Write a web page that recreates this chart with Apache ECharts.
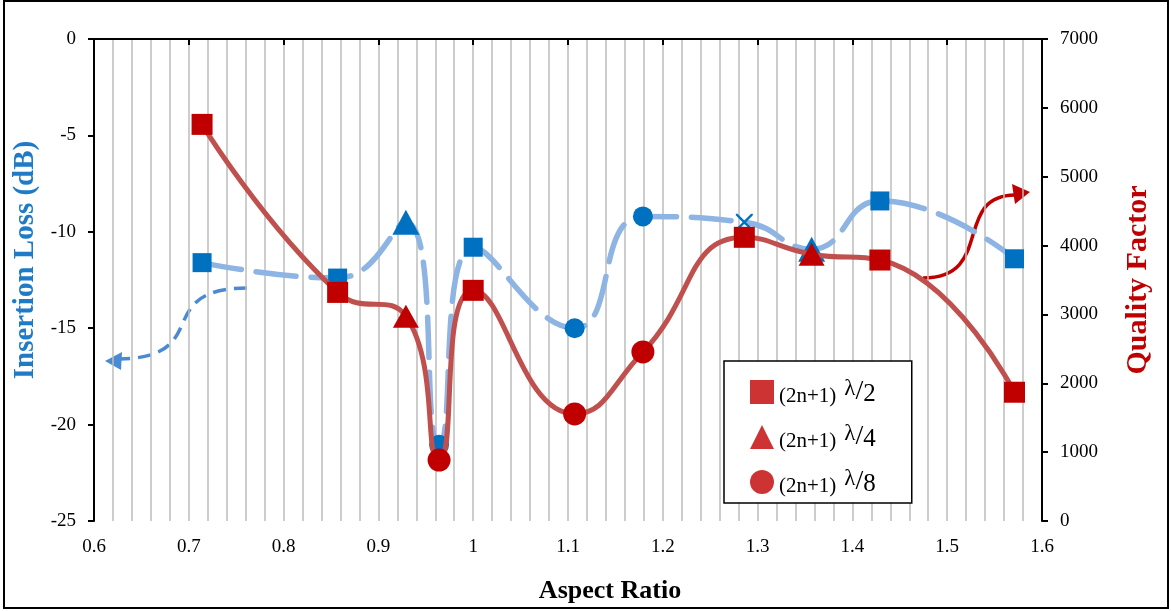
<!DOCTYPE html>
<html>
<head>
<meta charset="utf-8">
<script src="https://cdn.jsdelivr.net/npm/echarts@6/dist/echarts.min.js"></script>
<style>
  html, body { margin: 0; padding: 0; background: #fff; }
  #chart { width: 1171px; height: 611px; }
</style>
</head>
<body>
<div id="chart"></div>
<script>
// values
const aspectRatio   = [0.714, 0.857, 0.929, 0.964, 1.0, 1.107, 1.179, 1.286, 1.357, 1.429, 1.571];
const insertionLoss = [-11.6, -12.4, -9.5, -21.05, -10.8, -15.0, -9.2, -9.5, -10.9, -8.4, -11.4];
const qualityFactor = [5760, 3320, 2975, 885, 3350, 1555, 2455, 4120, 3875, 3790, 1870];
// resonance mode of each point: (2n+1) λ/2, λ/4, λ/8 ; 'x' = plain cross marker
const qModes    = ['2', '2', '4', '8', '2', '8', '8', '2', '4', '2', '2'];
const lossModes = ['2', '2', '4', '8', '2', '8', '8', 'x', '4', '2', '2'];
const legendModes = ['2', '4', '8'];

const BLUE_MARK = '#0070C0';
const BLUE_LINE = '#8DB4E2';
const RED_MARK = '#C00000';
const RED_LINE = '#C0504D';
const FONT = "'Liberation Serif', 'DejaVu Serif', serif";

const crossPath = 'path://M0,0 L2,0 L10,8 L18,0 L20,0 L20,2 L12,10 L20,18 L20,20 L18,20 L10,12 L2,20 L0,20 L0,18 L8,10 L0,2 Z';

function markerFor(mode, blue) {
  if (mode === '2') return { symbol: 'rect', symbolSize: blue ? 19 : 21 };
  if (mode === '4') return { symbol: 'triangle', symbolSize: blue ? [27, 25] : [26, 23] };
  if (mode === '8') return { symbol: 'circle', symbolSize: blue ? 20 : 23 };
  return { symbol: crossPath, symbolSize: 17 };
}

const lossData = aspectRatio.map((x, i) => Object.assign({ value: [x, insertionLoss[i]] }, markerFor(lossModes[i], true)));
const qData = aspectRatio.map((x, i) => Object.assign({ value: [x, qualityFactor[i]] }, markerFor(qModes[i], false)));

const legendIcons = { '2': 'rect', '4': 'triangle', '8': 'circle' };

const chart = echarts.init(document.getElementById('chart'));

chart.setOption({
  animation: false,
  backgroundColor: '#fff',
  grid: { left: 94, right: 129, top: 39, bottom: 90 },
  xAxis: {
    type: 'value',
    min: 0.6, max: 1.6, interval: 0.1,
    name: 'Aspect Ratio',
    nameLocation: 'middle',
    nameGap: 57,
    nameTextStyle: { fontFamily: FONT, fontSize: 26, fontWeight: 'bold', color: '#000', padding: [0, 0, 0, 84] },
    axisLine: { lineStyle: { color: '#000', width: 2 } },
    axisTick: { show: true, length: 6, lineStyle: { color: '#000', width: 2 } },
    axisLabel: { fontFamily: FONT, fontSize: 19, color: '#000', margin: 17,
      formatter: v => String(Math.round(v * 10) / 10) },
    splitLine: { show: true, lineStyle: { color: '#BDBDBD', width: 1.5 } },
    minorTick: { show: false, splitNumber: 5 },
    minorSplitLine: { show: true, lineStyle: { color: '#BDBDBD', width: 1.5 } }
  },
  yAxis: [
    {
      type: 'value',
      min: -25, max: 0, interval: 5,
      name: 'Insertion Loss (dB)',
      nameLocation: 'middle',
      nameRotate: 90,
      nameGap: 45,
      nameTextStyle: { fontFamily: FONT, fontSize: 29, fontWeight: 'bold', color: '#1F7BC8', padding: [0, 0, 0, 40] },
      axisLine: { show: true, lineStyle: { color: '#000', width: 2 } },
      axisTick: { show: true, length: 6, lineStyle: { color: '#000', width: 2 } },
      axisLabel: { fontFamily: FONT, fontSize: 19, color: '#000', margin: 18 },
      splitLine: { show: false }
    },
    {
      type: 'value',
      min: 0, max: 7000, interval: 1000,
      name: 'Quality Factor',
      nameLocation: 'middle',
      nameRotate: 90,
      nameGap: 81,
      nameTextStyle: { fontFamily: FONT, fontSize: 30, fontWeight: 'bold', color: RED_MARK },
      axisLine: { show: true, lineStyle: { color: '#000', width: 2 } },
      axisTick: { show: true, length: 6, lineStyle: { color: '#000', width: 2 } },
      axisLabel: { fontFamily: FONT, fontSize: 19, color: '#000', margin: 18, formatter: v => String(v) },
      splitLine: { show: false }
    }
  ],
  legend: {
    orient: 'vertical',
    left: 724, top: 361,
    padding: [9, 36, 6, 26],
    itemGap: 8,
    itemWidth: 24, itemHeight: 24,
    borderColor: '#000', borderWidth: 1.5,
    backgroundColor: '#fff',
    data: legendModes.map(m => ({ name: 'λ/' + m, icon: legendIcons[m] })),
    formatter: name => '{a|(2n+1)}{l|λ}{s|/}{n|' + name.split('/')[1] + '}',
    textStyle: {
      color: '#000',
      rich: {
        a: { fontFamily: FONT, fontSize: 21, verticalAlign: 'bottom', lineHeight: 22, padding: [6, 8, 0, 0] },
        l: { fontFamily: FONT, fontSize: 23, verticalAlign: 'top', lineHeight: 20 },
        s: { fontFamily: FONT, fontSize: 28, verticalAlign: 'middle', lineHeight: 30 },
        n: { fontFamily: FONT, fontSize: 25, verticalAlign: 'bottom', lineHeight: 22, padding: [12, 0, 0, 0] }
      }
    }
  },
  series: [
    {
      name: 'Insertion Loss',
      type: 'line',
      yAxisIndex: 0,
      data: lossData,
      smooth: 0.5,
      lineStyle: { color: BLUE_LINE, width: 5.5, type: [40, 15], cap: 'round' },
      itemStyle: { color: BLUE_MARK },
      z: 2
    },
    {
      name: 'Quality Factor',
      type: 'line',
      yAxisIndex: 1,
      data: qData,
      smooth: 0.5,
      lineStyle: { color: RED_LINE, width: 5, cap: 'round' },
      itemStyle: { color: RED_MARK },
      z: 3
    }
  ].concat(legendModes.map(m => ({
    name: 'λ/' + m,
    type: 'scatter',
    data: [],
    itemStyle: { color: RED_MARK }
  }))),
  graphic: [
    {
      type: 'rect',
      shape: { x: 4, y: 1, width: 1164, height: 607 },
      style: { fill: 'none', stroke: '#000', lineWidth: 2 },
      silent: true
    },
    {
      type: 'bezierCurve',
      shape: { x1: 247, y1: 288, cpx1: 150, cpy1: 289, cpx2: 215, cpy2: 357, x2: 120, y2: 359 },
      style: { fill: 'none', stroke: '#4A8AD4', lineWidth: 3.5, lineDash: [13, 8] },
      silent: true
    },
    {
      type: 'polygon',
      shape: { points: [[105, 361], [122, 352], [121, 370]] },
      style: { fill: '#4A8AD4' },
      silent: true
    },
    {
      type: 'bezierCurve',
      shape: { x1: 923, y1: 278, cpx1: 995, cpy1: 278, cpx2: 952, cpy2: 196, x2: 1015, y2: 195 },
      style: { fill: 'none', stroke: RED_MARK, lineWidth: 3.5 },
      silent: true
    },
    {
      type: 'polygon',
      shape: { points: [[1030, 192], [1012, 184], [1015, 204]] },
      style: { fill: RED_MARK },
      silent: true
    }
  ]
});
</script>
</body>
</html>
